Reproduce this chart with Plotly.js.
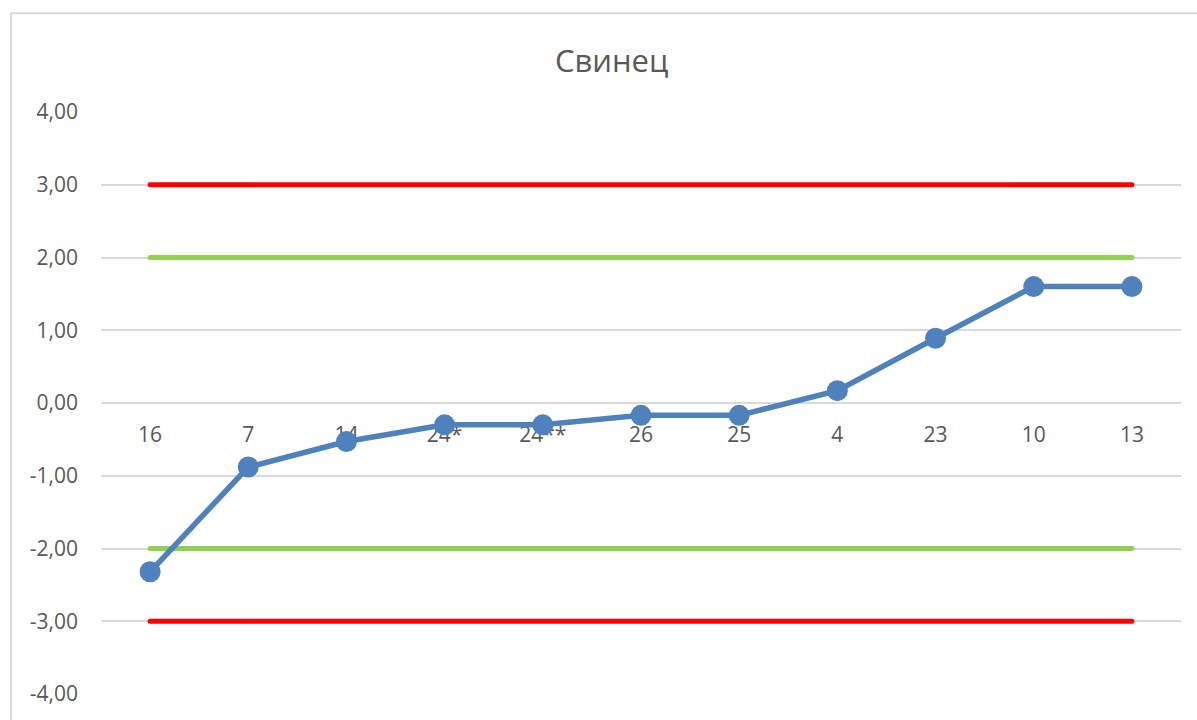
<!DOCTYPE html>
<html>
<head>
<meta charset="utf-8">
<script src="https://cdn.plot.ly/plotly-3.0.1.min.js"></script>
<style>
  html, body { margin: 0; padding: 0; background: #ffffff; overflow: hidden; }
  #chart { width: 1197px; height: 720px; }
  .js-line { stroke-linecap: round; }
</style>
</head>
<body>
<div id="chart"></div>
<script>
// Sample numbers along the category axis
const categories = ['16', '7', '14', '24*', '24**', '26', '25', '4', '23', '10', '13'];
// Standardised lead (Свинец) score per sample
const leadScores = [-2.32, -0.88, -0.53, -0.30, -0.30, -0.17, -0.17, 0.17, 0.89, 1.60, 1.60];
// Control limits
const actionUpper = categories.map(() => 3);
const actionLower = categories.map(() => -3);
const warningUpper = categories.map(() => 2);
const warningLower = categories.map(() => -2);
// Value-axis ticks and their labels (comma decimal, hyphen minus)
const yTicks = [-4, -3, -2, -1, 0, 1, 2, 3, 4];
const yTickLabels = ['-4,00', '-3,00', '-2,00', '-1,00', '0,00', '1,00', '2,00', '3,00', '4,00'];

const RED = '#ff0000';
const GREEN = '#92d050';
const BLUE = '#4f81bd';
const TEXT = '#595959';
const FONT = '"Open Sans", "Noto Sans", sans-serif';

function limitTrace(vals, color) {
  return {
    type: 'scatter', mode: 'lines', x: categories, y: vals,
    line: { color: color, width: 5 }, hoverinfo: 'skip', showlegend: false
  };
}

const data = [
  limitTrace(actionUpper, RED),
  limitTrace(warningUpper, GREEN),
  limitTrace(warningLower, GREEN),
  limitTrace(actionLower, RED),
  {
    type: 'scatter', mode: 'lines+markers', x: categories, y: leadScores,
    line: { color: BLUE, width: 5.5 },
    marker: { color: BLUE, size: 21 },
    showlegend: false
  }
];

const layout = {
  width: 1197, height: 720,
  margin: { l: 101, r: 16, t: 112, b: 26 },
  paper_bgcolor: '#ffffff', plot_bgcolor: '#ffffff',
  font: { family: FONT, color: TEXT },
  title: {
    text: 'Свинец',
    font: { family: FONT, size: 31, color: TEXT },
    xref: 'container', x: 0.511, xanchor: 'center',
    yref: 'container', y: 0.915, yanchor: 'middle'
  },
  xaxis: {
    type: 'category', categoryorder: 'array', categoryarray: categories,
    range: [-0.5, 10.5],
    anchor: 'free', position: 0.5,
    showgrid: false, zeroline: false, showline: false,
    ticks: '', ticklabelstandoff: 17,
    tickfont: { family: FONT, size: 21, color: TEXT },
    layer: 'below traces', fixedrange: true
  },
  yaxis: {
    range: [-4, 4], tickmode: 'array', tickvals: yTicks, ticktext: yTickLabels,
    showgrid: true, gridcolor: '#d9d9d9', gridwidth: 2,
    zeroline: false, showline: false, ticks: '',
    ticklabelstandoff: 22,
    tickfont: { family: FONT, size: 21, color: TEXT },
    fixedrange: true
  },
  shapes: [{
    // chart frame
    type: 'rect', xref: 'paper', yref: 'paper',
    x0: -0.0833, x1: 1.03, y0: -0.06, y1: 1.1695,
    line: { color: '#d9d9d9', width: 2 }, fillcolor: 'rgba(0,0,0,0)', layer: 'below'
  }]
};

Plotly.newPlot('chart', data, layout, { displayModeBar: false, staticPlot: true });
</script>
</body>
</html>
